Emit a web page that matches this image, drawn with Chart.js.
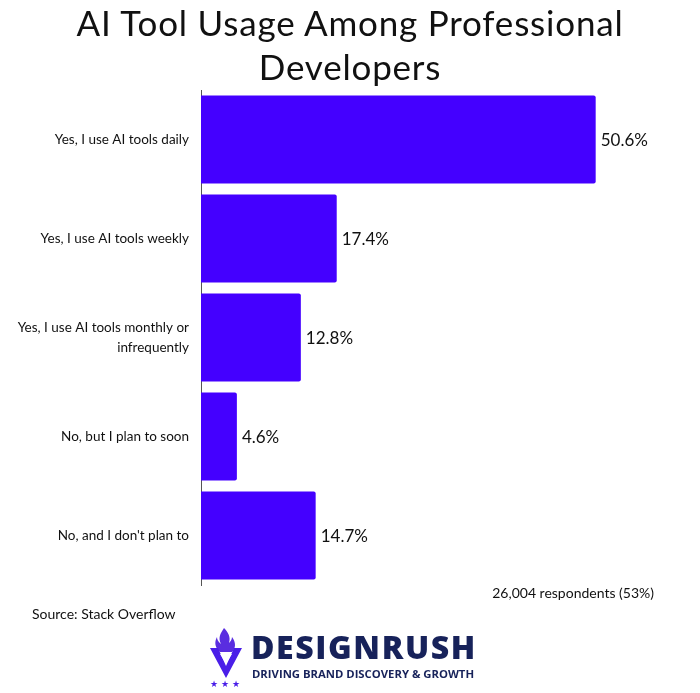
<!DOCTYPE html>
<html>
<head>
<meta charset="utf-8">
<script src="https://cdn.jsdelivr.net/npm/chart.js@4/dist/chart.umd.min.js"></script>
<style>
  html, body { margin: 0; padding: 0; background: #fff; }
  body { width: 700px; height: 693px; position: relative; overflow: hidden; font-family: Lato, "Open Sans", sans-serif; }
  #wrap { position: absolute; left: 0; top: 0; width: 700px; height: 693px; }
  .title { position: absolute; left: 0; width: 700px; text-align: center; font-size: 35px; letter-spacing: 0.8px; color: #111; line-height: 44px; top: 0; }
  .note { position: absolute; font-size: 14px; color: #111; }
  .logo { position: absolute; left: 208px; top: 626px; width: 280px; height: 62px; }
  .brand { position: absolute; left: 43px; top: 3px; font-family: "Open Sans", Roboto, sans-serif; font-weight: 800; font-size: 32px; color: #17225a; letter-spacing: 1.6px; line-height: 36px; }
  .tag { position: absolute; left: 44px; top: 41px; font-family: "Open Sans", Roboto, sans-serif; font-weight: 700; font-size: 11.3px; color: #17225a; line-height: 14px; white-space: nowrap; }
</style>
</head>
<body>
<div id="wrap"><canvas id="c" width="700" height="693"></canvas></div>
<div class="title">AI Tool Usage Among Professional<br>Developers</div>
<div class="note" style="right:46px; top:584px;">26,004 respondents (53%)</div>
<div class="note" style="left:32px; top:605px;">Source: Stack Overflow</div>
<div class="logo">
  <svg width="40" height="62" viewBox="0 0 40 62" style="position:absolute;left:0;top:0">
    <path d="M16 2 C12 8 10 12 13 18 C10 16 9 13 9 11 C6 16 7 22 12 26 L24 26 C28 22 28 16 24 11 C24 14 22 16 21 17 C23 11 20 6 16 2 Z" fill="#5a2de0"/>
    <path d="M2 22 L10 22 L18 40 L26 22 L34 22 L18 52 Z" fill="#4a1ee8"/>
    <path d="M12 28 L24 28 L18 38 Z" fill="#ffffff"/>
    <text x="2" y="61" font-size="9" fill="#4a1ee8">★</text>
    <text x="13" y="61" font-size="9" fill="#4a1ee8">★</text>
    <text x="24" y="61" font-size="9" fill="#4a1ee8">★</text>
  </svg>
  <div class="brand">DESIGNRUSH</div>
  <div class="tag">DRIVING BRAND DISCOVERY &amp; GROWTH</div>
</div>
<script>
const categories = [
  "Yes, I use AI tools daily",
  "Yes, I use AI tools weekly",
  ["Yes, I use AI tools monthly or", "infrequently"],
  "No, but I plan to soon",
  "No, and I don't plan to"
];
const values = [50.6, 17.4, 12.8, 4.6, 14.7];
const valueLabels = ["50.6%", "17.4%", "12.8%", "4.6%", "14.7%"];

const FONT = "Lato, 'Open Sans', sans-serif";

const valueLabelPlugin = {
  id: 'valueLabels',
  afterDatasetsDraw(chart) {
    const ctx = chart.ctx;
    const meta = chart.getDatasetMeta(0);
    ctx.save();
    ctx.font = "17px " + FONT;
    ctx.fillStyle = "#111";
    ctx.textAlign = "left";
    ctx.textBaseline = "middle";
    meta.data.forEach((bar, i) => {
      ctx.fillText(valueLabels[i], bar.x + 5, bar.y + 1);
    });
    ctx.restore();
  }
};

new Chart(document.getElementById('c'), {
  type: 'bar',
  data: {
    labels: categories,
    datasets: [{
      data: values,
      backgroundColor: '#4400ff',
      borderRadius: 2,
      borderSkipped: 'start',
      categoryPercentage: 0.89,
      barPercentage: 1.0
    }]
  },
  options: {
    indexAxis: 'y',
    responsive: false,
    animation: false,
    devicePixelRatio: 1,
    layout: { padding: { top: 90, bottom: 108, left: 0, right: 31 } },
    plugins: { legend: { display: false }, tooltip: { enabled: false }, title: { display: false } },
    scales: {
      x: { display: false, min: 0, max: 60 },
      y: {
        afterFit(scale) { scale.width = 201; },
        grid: { display: false, drawTicks: false },
        border: { display: true, color: '#555', width: 1 },
        ticks: { color: '#111', padding: 12, font: { family: FONT, size: 13.5, lineHeight: 1.45 } }
      }
    }
  },
  plugins: [valueLabelPlugin]
});
</script>
</body>
</html>
